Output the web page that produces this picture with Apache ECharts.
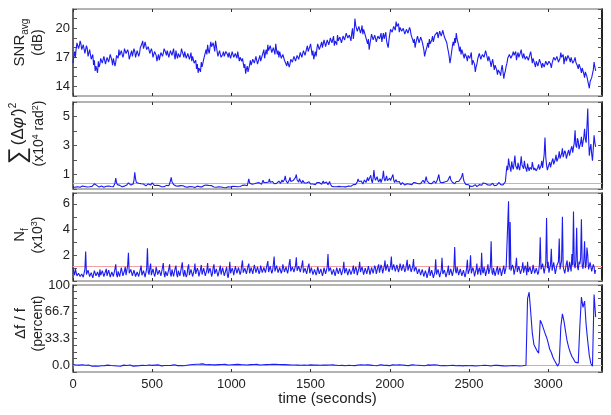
<!DOCTYPE html>
<html><head><meta charset="utf-8">
<script src="https://cdn.jsdelivr.net/npm/echarts@6/dist/echarts.min.js"></script>
<style>html,body{margin:0;padding:0;background:#fff}#c{width:611px;height:415px}</style>
</head><body><div id="c"></div><script>
// sample spacing (seconds)
const sampleStep = 5;   // snr, phase, nf
const dffStep = 10;     // dff
// x-axis ticks
const timeTicks = [0, 500, 1000, 1500, 2000, 2500, 3000];
// y tick labels per panel
const snrLabels = [14, 17, 20];
const phaseLabels = [1, 3, 5];
const nfLabels = [2, 4, 6];
const dffLabels = [0, 33.3, 66.7, 100];
// threshold (red) lines
const phaseThreshold = 0.38;
const nfThreshold = 1.15;
const dffThreshold = 0;

// SNR_avg (dB), every 5 s
const snr = [
16.4,17.1,17.6,17.0,17.9,18.5,18.6,17.9,18.2,18.7,18.4,17.8,17.6,18.3,18.1,17.4,17.5,18.2,17.9,17.1,17.2,17.8,17.6,16.8,16.9,17.3,16.2,16.7,15.6,16.1,15.9,15.4,16.6,16.0,16.3,16.9,17.0,16.4,16.5,17.1,
16.9,16.3,16.4,17.0,17.1,16.5,16.6,17.3,17.2,16.7,16.2,16.9,16.8,16.1,16.5,17.2,17.4,16.9,17.8,17.2,17.1,17.7,17.6,17.0,17.3,17.9,18.0,17.4,17.2,17.8,17.5,16.8,16.9,17.4,17.7,17.1,17.3,17.9,17.6,17.0,
17.2,17.7,17.8,17.1,17.4,18.0,17.9,18.4,18.7,17.9,18.2,18.6,18.5,17.8,17.6,18.1,17.9,17.4,17.3,17.9,17.6,17.0,17.1,17.6,17.8,17.2,16.6,17.0,17.3,16.7,16.9,17.5,17.7,17.1,17.4,17.9,18.0,17.5,17.2,17.7,
17.6,17.0,17.1,17.7,17.8,17.2,17.4,17.9,17.2,16.8,17.7,17.2,16.9,17.4,17.5,17.0,17.3,17.9,17.8,17.3,17.0,17.6,17.4,16.9,16.8,17.4,17.3,16.8,17.1,17.5,16.6,17.1,16.9,16.4,16.2,16.7,15.8,16.3,15.4,15.9,
15.9,15.5,16.5,16.0,16.2,16.8,17.0,16.6,17.8,17.3,18.3,17.7,17.4,18.0,18.6,18.1,17.9,18.5,18.1,17.6,18.7,18.2,17.6,17.1,17.2,17.7,17.5,17.0,16.9,17.3,17.6,17.1,17.2,17.6,17.8,17.3,17.0,17.5,17.4,16.9,
17.1,17.6,17.5,17.0,16.8,17.4,17.3,16.9,17.6,17.1,16.6,17.0,17.2,16.6,16.9,16.4,15.9,16.3,15.3,15.8,16.1,15.5,15.6,16.2,16.7,16.2,16.3,16.8,17.0,16.4,16.5,17.1,16.9,16.3,16.4,16.9,17.2,16.6,16.7,17.2,
17.3,17.8,16.9,17.4,17.8,17.3,18.3,17.7,17.6,18.2,18.1,17.5,17.4,18.0,17.9,17.3,18.4,17.8,17.3,17.7,17.0,17.6,17.5,16.9,16.8,17.3,17.2,16.7,16.5,16.9,16.1,16.6,16.6,16.0,16.3,16.8,17.0,16.5,16.6,17.1,
17.1,16.6,16.7,17.2,17.4,16.8,16.9,17.5,17.6,17.0,17.2,17.7,17.8,17.2,17.3,17.9,18.2,17.6,17.5,18.1,18.4,17.8,17.2,17.7,16.8,17.2,17.6,17.1,17.9,18.4,18.3,17.8,17.8,18.3,18.6,18.0,18.2,18.8,18.7,18.1,
18.3,18.8,18.9,18.3,18.4,19.0,19.1,18.5,18.6,19.2,18.2,18.7,18.8,18.3,19.3,18.7,18.5,19.1,19.0,18.5,18.7,19.2,19.4,18.8,18.9,19.5,19.6,19.0,18.8,19.3,19.2,18.7,19.5,20.0,18.9,19.6,21.0,20.3,20.2,19.7,
19.6,20.2,20.1,19.5,19.8,20.3,19.4,19.9,19.9,19.3,19.1,18.7,18.4,18.9,17.8,18.4,18.9,19.4,19.3,18.8,18.8,19.3,19.2,18.6,18.7,19.2,19.4,18.9,19.0,19.5,18.6,19.1,19.5,18.9,19.1,19.6,18.7,18.3,18.0,18.8,
19.4,19.9,20.1,19.6,19.7,20.2,20.3,19.8,20.7,20.2,20.0,20.5,19.6,20.1,20.2,19.7,19.5,20.0,19.9,19.4,19.3,19.9,20.0,19.5,19.6,20.1,19.8,19.3,19.2,18.8,18.5,18.9,18.0,18.5,18.7,19.2,19.1,18.5,18.6,19.1,
19.0,18.6,18.4,17.8,17.1,17.5,17.6,18.1,18.5,18.0,18.9,18.4,18.3,18.8,19.2,18.6,18.7,19.3,19.1,19.5,19.6,19.0,19.2,19.7,19.8,19.2,19.3,19.8,19.6,19.1,18.9,19.3,18.5,18.0,17.6,17.1,16.4,16.9,17.5,18.1,
18.6,18.2,19.0,18.5,19.5,18.9,18.8,18.2,17.6,18.1,17.3,17.8,17.8,17.2,16.9,17.4,17.5,17.0,16.6,17.2,17.4,16.9,17.0,17.5,16.2,16.7,16.9,16.3,15.5,16.0,16.3,16.8,16.9,17.4,17.4,16.8,16.8,17.3,17.5,17.0,
17.1,17.7,17.6,17.0,16.6,17.1,17.2,16.5,16.0,16.5,16.8,16.2,15.7,16.2,16.3,15.7,15.2,15.7,15.9,15.4,15.1,15.8,16.2,15.5,14.8,15.3,15.6,16.1,16.4,16.9,16.9,17.3,17.4,16.9,16.8,17.3,17.6,17.2,17.1,17.6,
16.7,17.2,17.5,17.0,17.0,17.5,17.8,17.2,16.9,17.4,17.3,16.8,16.6,17.1,17.2,16.7,16.8,17.3,17.6,17.0,16.4,16.9,16.8,16.3,16.0,16.6,16.6,16.1,16.2,16.8,16.9,16.3,15.9,16.4,16.5,16.0,16.1,16.6,16.7,16.2,
16.2,16.6,16.8,16.3,15.9,16.4,16.5,17.0,17.2,16.7,16.6,17.1,17.0,16.5,16.4,16.9,17.5,17.0,16.8,17.3,16.3,16.8,17.1,16.6,16.7,17.2,17.3,16.8,16.5,17.0,16.9,16.4,16.2,16.7,17.0,16.5,16.6,16.1,15.8,16.3,
16.3,15.8,15.4,15.9,16.0,15.3,14.9,15.5,15.6,15.0,14.6,14.2,13.8,14.5,14.3,14.9,15.1,15.7,16.5,16.0,15.6
];

// sum of squared phase differences (x10^4 rad^2), every 5 s
const phase = [
0.12,0.09,0.18,0.13,0.10,0.16,0.15,0.10,0.08,0.12,0.13,0.19,0.20,0.14,0.11,0.17,0.16,0.11,0.14,0.20,0.22,0.15,0.12,0.17,0.18,0.24,0.28,0.36,0.48,0.33,0.25,0.20,0.19,0.13,0.14,0.18,0.21,0.15,0.16,0.12,
0.13,0.17,0.19,0.14,0.15,0.21,0.24,0.18,0.17,0.13,0.12,0.16,0.20,0.40,0.75,0.45,0.30,0.22,0.18,0.25,0.22,0.17,0.15,0.21,0.26,0.20,0.19,0.24,0.28,0.36,0.42,0.33,0.31,0.27,0.24,0.30,0.35,0.60,1.15,0.70,
0.45,0.38,0.33,0.40,0.28,0.33,0.36,0.29,0.25,0.34,0.31,0.26,0.22,0.30,0.29,0.35,0.34,0.28,0.27,0.38,0.42,0.34,0.30,0.24,0.21,0.29,0.26,0.20,0.18,0.23,0.24,0.17,0.16,0.21,0.22,0.15,0.19,0.24,0.25,0.20,
0.28,0.22,0.35,0.55,0.80,0.50,0.38,0.31,0.25,0.30,0.21,0.26,0.27,0.20,0.18,0.24,0.23,0.17,0.16,0.22,0.20,0.15,0.14,0.19,0.19,0.13,0.12,0.18,0.17,0.12,0.11,0.16,0.15,0.09,0.10,0.15,0.14,0.20,0.18,0.13,
0.15,0.19,0.21,0.15,0.17,0.23,0.26,0.18,0.20,0.27,0.35,0.22,0.24,0.29,0.31,0.23,0.19,0.24,0.14,0.18,0.17,0.12,0.11,0.16,0.15,0.10,0.09,0.14,0.13,0.08,0.10,0.15,0.14,0.09,0.12,0.17,0.16,0.10,0.11,0.14,
0.15,0.11,0.18,0.14,0.13,0.17,0.20,0.15,0.16,0.21,0.22,0.17,0.18,0.23,0.25,0.19,0.21,0.27,0.19,0.24,0.23,0.45,0.70,0.42,0.38,0.29,0.33,0.40,0.45,0.36,0.30,0.37,0.41,0.33,0.35,0.44,0.48,0.39,0.32,0.42,
0.60,0.45,0.38,0.50,0.45,0.36,0.34,0.48,0.70,0.46,0.40,0.55,0.52,0.41,0.36,0.47,0.48,0.39,0.41,0.52,0.55,0.43,0.38,0.50,0.62,0.47,0.44,0.65,0.90,0.58,0.50,0.40,0.42,0.60,0.80,0.52,0.47,0.39,0.58,0.46,
0.65,0.80,1.00,0.62,0.55,0.48,0.72,0.56,0.48,0.40,0.60,0.47,0.42,0.50,0.55,0.41,0.38,0.46,0.50,0.37,0.34,0.42,0.46,0.35,0.40,0.33,0.30,0.38,0.44,0.31,0.36,0.45,0.50,0.38,0.32,0.42,0.55,0.40,0.38,0.44,
0.48,0.36,0.30,0.42,0.52,0.33,0.25,0.18,0.20,0.14,0.16,0.21,0.22,0.16,0.14,0.19,0.18,0.13,0.12,0.16,0.17,0.12,0.15,0.19,0.21,0.15,0.16,0.22,0.20,0.27,0.26,0.19,0.22,0.28,0.30,0.23,0.25,0.32,0.35,0.50,
0.70,0.52,0.40,0.48,0.55,0.42,0.35,0.45,0.62,0.50,0.45,0.58,0.80,0.56,0.50,0.65,0.95,0.60,0.42,0.75,1.30,0.78,0.60,0.50,0.85,0.62,0.48,0.56,0.70,0.44,0.52,0.80,1.25,0.70,0.55,0.66,0.90,0.58,0.46,0.62,
0.75,0.58,0.50,0.68,1.00,0.62,0.45,0.55,0.65,0.48,0.38,0.46,0.52,0.40,0.30,0.38,0.44,0.33,0.34,0.27,0.28,0.35,0.36,0.29,0.25,0.33,0.40,0.32,0.30,0.38,0.45,0.36,0.33,0.42,0.55,0.40,0.36,0.44,0.48,0.37,
0.35,0.44,0.60,0.47,0.42,0.55,0.85,0.56,0.50,0.43,0.38,0.48,0.46,0.37,0.32,0.41,0.55,0.44,0.40,0.50,0.62,0.75,1.00,0.60,0.45,0.52,0.58,0.44,0.38,0.47,0.50,0.39,0.42,0.55,0.68,0.52,0.90,0.64,0.55,0.46,
0.48,0.40,0.36,0.45,0.52,0.41,0.40,0.52,0.60,0.48,0.75,0.90,1.10,0.70,0.50,0.40,0.32,0.26,0.22,0.30,0.28,0.21,0.18,0.24,0.25,0.19,0.20,0.27,0.30,0.22,0.16,0.21,0.24,0.30,0.35,0.27,0.26,0.33,0.42,0.31,
0.30,0.38,0.48,0.33,0.28,0.35,0.36,0.27,0.25,0.32,0.40,0.29,0.22,0.30,0.34,0.26,0.28,0.37,0.45,0.33,0.30,0.36,0.38,0.28,0.26,0.35,0.50,1.10,1.60,1.30,2.10,1.70,1.45,1.20,1.90,1.55,1.35,1.80,2.30,1.60,
1.55,1.35,1.80,1.50,1.30,1.70,2.25,1.65,1.60,1.40,1.95,1.55,1.40,1.20,1.75,1.45,1.25,1.50,1.60,1.35,1.85,1.55,1.30,1.45,1.55,1.25,1.20,1.50,1.70,1.35,1.40,1.60,1.95,1.45,1.50,2.40,3.55,2.20,1.65,1.30,
1.40,1.70,1.85,1.50,1.60,1.95,2.10,1.70,1.75,2.05,2.35,1.90,1.90,2.20,2.60,2.10,2.05,2.45,2.80,2.20,2.25,2.65,2.50,2.10,2.15,2.55,2.70,2.30,2.40,2.80,2.95,2.50,2.55,3.20,4.05,3.00,2.85,3.50,3.30,2.75,
2.70,3.20,3.60,2.90,3.00,3.55,4.15,3.40,3.20,4.30,5.55,3.60,2.30,2.80,3.10,2.40,1.95,2.80,3.70,3.20,2.90
];

// N_f (x10^3), every 5 s
const nf = [
1.05,0.70,0.45,0.95,0.80,0.40,0.30,0.60,0.65,0.35,0.25,0.55,0.70,0.30,0.35,0.90,2.30,0.50,0.40,0.85,0.75,0.35,0.20,0.65,0.60,0.25,0.35,0.80,0.85,0.40,0.25,0.70,0.55,0.30,0.90,0.45,0.30,0.80,0.70,0.35,
0.40,0.75,0.95,0.40,0.35,0.85,0.60,0.30,0.25,0.70,0.80,0.35,0.45,0.95,1.30,0.50,0.30,0.75,0.65,0.35,0.50,1.05,0.90,0.40,0.35,0.80,1.10,0.45,0.55,1.20,2.20,0.60,0.45,0.90,1.00,0.40,0.30,0.85,0.75,0.35,
0.25,0.70,0.85,0.35,0.40,0.90,1.20,0.45,0.35,0.80,0.70,0.30,0.30,0.95,2.55,0.70,0.50,1.00,1.35,0.45,0.40,0.95,0.80,0.35,0.55,1.10,1.25,0.50,0.35,0.85,0.90,0.40,0.45,1.05,1.40,0.55,0.30,0.75,0.85,0.40,
0.50,0.95,1.30,0.55,0.35,0.90,0.75,0.35,0.45,1.00,1.20,0.50,0.30,0.80,0.85,0.40,0.40,1.10,1.45,0.60,0.35,0.85,0.70,0.30,0.50,1.05,1.30,0.45,0.40,0.90,0.95,0.35,0.30,0.85,1.35,0.55,0.45,1.00,0.80,0.35,
0.35,0.90,1.25,0.50,0.50,1.00,0.90,0.40,0.30,0.85,1.40,0.60,0.45,1.00,0.75,0.35,0.55,1.05,1.30,0.55,0.40,0.95,0.85,0.35,0.35,0.90,1.20,0.50,0.50,1.05,0.95,0.40,0.40,0.85,1.10,0.45,0.25,0.75,1.50,0.60,
0.45,1.00,0.80,0.45,0.60,1.15,1.30,0.60,0.55,1.05,1.00,0.50,0.70,1.20,1.60,0.65,0.55,1.00,1.10,0.55,0.65,1.15,1.35,0.60,0.50,1.05,0.95,0.55,0.70,1.25,1.40,0.65,0.60,1.10,1.05,0.55,0.75,1.20,1.30,0.65,
0.60,1.05,1.20,0.65,0.75,1.25,1.55,0.70,0.65,1.15,1.05,0.60,0.80,1.30,1.90,0.75,0.70,1.20,1.25,0.65,0.55,1.05,1.10,0.60,0.80,1.30,1.45,0.70,0.65,1.10,1.15,0.60,0.90,1.35,1.70,0.75,0.60,1.10,1.25,0.70,
0.75,1.20,1.85,0.80,0.65,1.15,1.30,0.70,0.80,1.25,1.60,0.65,0.55,1.00,1.10,0.55,0.70,1.15,1.35,0.60,0.60,1.05,1.05,0.50,0.45,0.90,0.95,0.45,0.70,1.10,1.20,0.55,0.50,0.95,0.85,0.40,0.65,1.05,1.10,0.55,
0.50,1.10,2.10,0.75,0.60,1.05,1.00,0.50,0.45,0.90,0.85,0.40,0.70,1.05,1.20,0.55,0.55,1.00,0.90,0.45,0.40,0.95,1.50,0.60,0.60,1.00,0.85,0.45,0.50,0.95,1.00,0.50,0.45,0.90,1.20,0.55,0.70,1.10,0.90,0.45,
0.55,1.00,1.50,0.70,0.65,1.10,0.95,0.50,0.50,1.00,1.10,0.55,0.70,1.15,0.85,0.50,0.60,1.05,1.15,0.60,0.75,1.20,1.00,0.55,0.55,1.10,1.30,0.65,0.80,1.25,1.05,0.60,0.65,1.15,1.60,0.80,0.85,1.30,1.25,0.70,
0.70,1.20,1.90,0.85,0.90,1.30,1.35,0.75,0.75,1.25,1.20,0.70,0.95,1.35,1.50,0.80,0.80,1.30,1.15,0.70,0.90,1.25,1.65,0.80,0.85,1.30,1.25,0.70,0.70,1.15,1.70,0.75,0.75,1.10,1.05,0.55,0.60,0.95,0.85,0.45,
0.50,0.90,0.75,0.35,0.35,0.80,0.60,0.25,0.30,0.75,1.10,0.40,0.40,0.85,0.55,0.25,0.25,0.70,1.70,0.50,0.45,0.90,0.60,0.30,0.30,0.85,1.80,0.55,0.40,0.85,0.70,0.30,0.35,0.80,1.20,0.45,0.50,0.95,0.80,0.40,
0.45,1.00,2.65,0.80,0.60,1.10,1.05,0.45,0.50,0.95,0.90,0.40,0.35,0.85,0.75,0.30,0.55,1.00,1.65,0.55,0.40,0.95,2.00,0.60,0.50,1.05,0.80,0.35,0.40,0.90,1.35,0.50,0.55,1.05,0.95,0.45,2.20,0.80,0.60,1.10,
0.85,0.40,0.45,0.95,1.30,0.55,0.60,1.10,3.10,0.70,0.50,1.00,0.90,0.40,0.40,0.95,1.15,0.50,0.55,1.05,0.80,0.40,0.45,0.95,1.20,0.55,0.60,1.10,0.95,1.20,6.20,0.90,4.60,0.80,0.70,1.25,1.05,0.50,0.55,1.15,
1.80,0.70,0.65,1.15,1.10,0.55,0.50,1.00,1.45,0.65,0.75,1.20,0.95,0.45,1.50,0.70,0.60,1.10,1.15,0.55,0.80,1.25,1.30,0.60,0.55,1.00,1.05,0.50,0.70,1.30,3.40,0.90,0.85,1.35,1.20,0.60,0.65,1.40,4.90,1.00,
1.50,0.65,0.70,1.30,2.50,0.80,0.90,1.45,1.35,0.55,0.60,1.20,1.10,1.50,3.30,0.90,0.80,1.60,5.00,1.10,1.20,0.60,0.75,1.35,1.60,0.70,0.90,1.50,1.40,0.75,2.10,1.20,5.40,1.30,1.00,1.60,4.15,1.10,0.85,1.50,
1.30,1.80,4.80,1.20,0.95,1.60,3.10,1.00,1.25,2.60,2.00,0.90,0.80,1.45,1.60,0.75,0.70,1.30,1.10,0.55,0.85
];

// Δf / f (percent), every 10 s
const dff = [
0.8,-0.6,0.4,-0.9,0.2,-0.4,0.6,-0.7,0.1,-1.0,0.3,-0.5,-1.2,0.2,-0.8,-0.3,-1.1,0.1,-0.6,-0.9,
-0.4,-1.0,0.2,-0.7,-0.2,-1.3,-0.5,0.1,-0.9,-0.3,-1.1,-0.4,0.2,-0.8,-0.2,-0.6,0.3,-0.5,-1.0,-0.1,
-0.7,0.2,-0.4,-1.0,0.1,-0.6,-0.2,-0.9,0.3,-0.5,-0.1,-0.8,0.2,-0.4,0.5,-0.3,-0.7,0.4,-0.2,0.6,
-0.3,0.5,-0.1,-0.6,0.7,0.0,-0.4,0.6,-0.2,0.3,-0.5,0.8,0.1,-0.3,0.6,0.2,1.0,0.4,1.3,0.6,
1.5,0.9,1.8,1.2,0.7,1.6,1.0,1.4,0.6,1.1,0.5,1.3,0.8,0.2,1.0,0.4,1.2,0.7,0.3,1.1,
0.6,1.4,0.9,0.3,1.2,0.5,0.8,1.5,0.7,1.1,0.4,1.3,0.9,1.6,1.0,0.6,1.2,0.8,0.4,1.1,
0.7,1.3,0.9,1.6,1.1,0.5,1.4,0.8,1.2,0.6,1.0,0.3,0.9,0.4,0.8,0.1,0.6,-0.2,0.4,-0.1,
0.3,-0.4,0.2,-0.6,0.1,-0.3,0.4,-0.7,0.0,-0.2,0.5,-0.5,0.2,-0.3,0.3,-0.6,0.1,-0.1,0.4,-0.4,
0.2,-0.5,0.3,-0.2,0.5,-0.4,0.1,0.6,-0.3,0.2,-0.1,0.4,-0.5,0.3,0.0,0.5,-0.2,0.3,-0.4,0.1,
0.4,-0.3,0.6,0.0,0.3,-0.4,0.5,-0.1,0.2,0.6,-0.2,0.4,-0.5,0.1,0.7,-0.3,0.2,0.5,-0.1,0.3,
-0.4,0.2,0.6,-0.2,0.4,0.0,0.7,-0.3,0.3,0.5,-0.1,0.4,-0.4,0.2,0.6,-0.2,0.3,-0.5,0.1,0.4,
-0.2,0.3,-0.6,0.1,0.5,-0.3,0.2,-0.1,0.6,-0.4,0.3,0.0,-0.5,0.4,-0.2,0.1,-0.6,0.3,-0.3,0.2,
-0.1,0.4,-0.5,0.2,-0.3,0.5,-0.7,0.1,-0.2,0.3,-0.6,0.0,-0.4,0.2,-0.8,-0.1,-0.5,0.3,-0.3,-0.6,
0.1,-0.7,-0.2,0.2,-0.9,-0.3,0.0,-0.6,-0.1,-1.0,-0.4,0.1,-0.7,-0.2,-0.8,0.0,-0.5,-1.1,-0.3,-0.6,
-0.5,0.3,-0.8,0.2,-0.6,0.4,0.0,83,91,66,40,26,22,18,15,56,52,46,40,35,
28,20,16,10,6,4,-1,3,48,64,55,42,30,22,16,11,8,4,2,3,
48,85,72,80,50,30,12,2,-1,88,60
];

const toPts = (arr, step) => arr.map((v, i) => [i * step, v]);

const FONT = 'Liberation Sans, Arial, sans-serif';
const BLUE = '#1c1cf0';
const RED = '#f4a0a0';
const xMax = 3340;

const grids = [
  {left: 73, right: 9, top: 9, height: 87, outerBoundsMode: 'none', containLabel: false},
  {left: 73, right: 9, top: 102, height: 87, outerBoundsMode: 'none', containLabel: false},
  {left: 73, right: 9, top: 193, height: 88, outerBoundsMode: 'none', containLabel: false},
  {left: 73, right: 9, top: 285, height: 87, outerBoundsMode: 'none', containLabel: false}
];

const near = (a, b) => Math.abs(a - b) < 1e-6;
const mkFmt = (labels, fmt) => v => {
  for (const l of labels) if (Math.abs(v - l) < 0.05) return fmt ? fmt(l) : String(l);
  return '';
};

const yDefs = [
  {min: 13, max: 22, interval: 1, labels: snrLabels, shift: 20, gap: 26,
   name: '{m|SNR}{sub|avg}\n{l2|(dB)}'},
  {min: 0, max: 6, interval: 1, labels: phaseLabels, shift: 24, gap: 23,
   name: '{sig|∑}{m2|(Δ}{it|φ′}{m2|)}{sup|2}\n{l3|(x10}{sup4|4}{l3| rad}{sup4|2}{l3|)}'},
  {min: 0, max: 6.85, interval: 1, labels: nfLabels, shift: 4, gap: 26,
   name: '{m|N}{sub|f}\n{l2|(x10}{sup2|3}{l2|)}'},
  {min: -100/12, max: 100, interval: 100/12, labels: dffLabels, shift: 10, gap: 26,
   fmt: l => l === 100 ? '100' : l.toFixed(1),
   name: '{m|Δf / f}\n{l2|(percent)}'}
];

const rich = {
  m: {fontSize: 15, fontFamily: FONT, color: '#222', lineHeight: 19},
  m2: {fontSize: 17, fontFamily: FONT, color: '#222', lineHeight: 20},
  it: {fontSize: 17, fontFamily: FONT, fontStyle: 'italic', color: '#222', lineHeight: 20},
  sig: {fontSize: 24, fontFamily: FONT, color: '#222', lineHeight: 20, padding: [0, 2, 0, 0]},
  sub: {fontSize: 10, fontFamily: FONT, color: '#222', verticalAlign: 'bottom', lineHeight: 21},
  sup: {fontSize: 10, fontFamily: FONT, color: '#222', verticalAlign: 'top', lineHeight: 20},
  l2: {fontSize: 14, fontFamily: FONT, color: '#222', lineHeight: 17},
  sup2: {fontSize: 9, fontFamily: FONT, color: '#222', verticalAlign: 'top', lineHeight: 17},
  l3: {fontSize: 14, fontFamily: FONT, color: '#222', lineHeight: 22},
  sup4: {fontSize: 9, fontFamily: FONT, color: '#222', verticalAlign: 'top', lineHeight: 17, padding: [3, 0, 0, 0]}
};

const xAxes = [], yAxes = [], series = [];
const datasets = [[snr, sampleStep], [phase, sampleStep], [nf, sampleStep], [dff, dffStep]];
const thresholds = [null, phaseThreshold, nfThreshold, dffThreshold];

grids.forEach((g, i) => {
  const last = i === 3;
  xAxes.push({
    gridIndex: i, type: 'value', min: 0, max: xMax, interval: 500, position: 'bottom',
    axisLine: {show: true, onZero: false, lineStyle: {color: '#9a9a9a', width: 1.5}},
    axisTick: {show: true, inside: true, length: 3, lineStyle: {color: '#333'}},
    axisLabel: last ? {show: true, fontSize: 13, fontFamily: FONT, color: '#222', margin: 6,
      formatter: v => timeTicks.some(t => near(t, v)) ? String(v) : ''} : {show: false},
    splitLine: {show: false},
    name: last ? 'time (seconds)' : '', nameLocation: 'middle', nameGap: 19, nameMoveOverlap: false,
    nameTextStyle: {fontSize: 15, fontFamily: FONT, color: '#222', padding: [0, 20, 0, 0], verticalAlign: 'top'}
  });
  xAxes.push({
    gridIndex: i, type: 'value', min: 0, max: xMax, interval: 500, position: 'top',
    axisLine: {show: true, onZero: false, lineStyle: {color: '#9a9a9a', width: 1.5}},
    axisTick: {show: true, inside: true, length: 3, lineStyle: {color: '#333'}},
    axisLabel: {show: false}, splitLine: {show: false}
  });
  const d = yDefs[i];
  yAxes.push({
    gridIndex: i, type: 'value', min: d.min, max: d.max, interval: d.interval, position: 'left',
    axisLine: {show: true, onZero: false, lineStyle: {color: '#333', width: 1.5}},
    axisTick: {show: true, inside: true, length: 4, lineStyle: {color: '#555'}},
    axisLabel: {show: true, fontSize: 13, fontFamily: FONT, color: '#222', margin: 3,
      formatter: mkFmt(d.labels, d.fmt)},
    splitLine: {show: false},
    name: d.name, nameLocation: 'middle', nameRotate: 90, nameGap: d.gap, nameMoveOverlap: false,
    nameTextStyle: {rich: rich, align: 'center', padding: [0, 0, 0, d.shift]}
  });
  yAxes.push({
    gridIndex: i, type: 'value', min: d.min, max: d.max, interval: d.interval, position: 'right',
    axisLine: {show: true, onZero: false, lineStyle: {color: '#222', width: 2}},
    axisTick: {show: true, inside: true, length: 4, lineStyle: {color: '#555'}},
    axisLabel: {show: false}, splitLine: {show: false}
  });
  const s = {
    type: 'line', xAxisIndex: i * 2, yAxisIndex: i * 2, data: toPts(datasets[i][0], datasets[i][1]),
    showSymbol: false, symbol: 'none', lineStyle: {color: BLUE, width: 1.1}, z: 3,
    silent: true
  };
  if (thresholds[i] !== null) {
    s.markLine = {silent: true, symbol: 'none', label: {show: false}, z: 1,
      lineStyle: {color: RED, width: 1, type: 'solid'}, data: [{yAxis: thresholds[i]}]};
  }
  series.push(s);
});

const chart = echarts.init(document.getElementById('c'), null, {renderer: 'canvas'});
chart.setOption({
  animation: false,
  backgroundColor: '#fff',
  grid: grids,
  xAxis: xAxes,
  yAxis: yAxes,
  series: series
});
</script></body></html>
